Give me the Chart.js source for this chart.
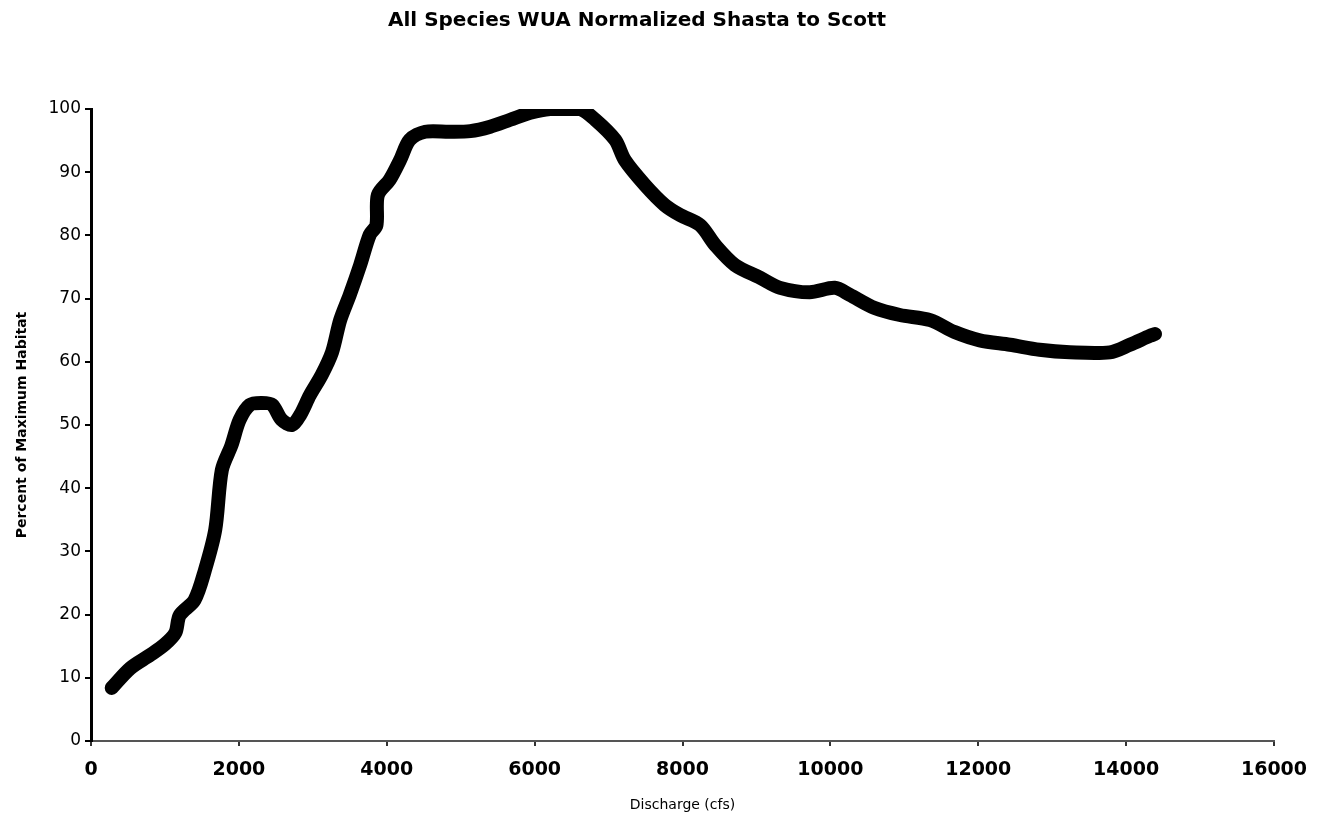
<!DOCTYPE html>
<html>
<head>
<meta charset="utf-8">
<title>All Species WUA Normalized Shasta to Scott</title>
<script src="https://cdn.jsdelivr.net/npm/chart.js@4.4.1/dist/chart.umd.min.js"></script>
<style>
    html, body { margin: 0; padding: 0; background: #fff; }
    #wrap { width: 1317px; height: 816px; position: relative; }
</style>
</head>
<body>
<div id="wrap"><canvas id="wua-chart"></canvas></div>
<script>
// Discharge (cfs) and percent of maximum habitat
const discharge = [280, 530, 800, 1000, 1140, 1200, 1400, 1540, 1680, 1770, 1900, 2010, 2150, 2310, 2450, 2580, 2720,
    2830, 2960, 3120, 3260, 3370, 3500, 3640, 3770, 3860, 3880, 4040, 4180, 4310, 4520, 4850, 5130, 5400, 5670,
    5940, 6210, 6610, 6820, 7090, 7220, 7490, 7760, 7970, 8240, 8440, 8710, 9050, 9320, 9720, 10060, 10260,
    10600, 10940, 11350, 11680, 12020, 12430, 12830, 13240, 13780, 14050, 14320, 14390];
const habitat = [8.4, 11.5, 13.6, 15.3, 17.1, 19.9, 22.3, 27, 33.4, 42.9, 46.8, 50.8, 53.2, 53.5, 53.2, 50.8, 50,
    51.6, 54.7, 57.9, 61.5, 66.6, 70.6, 75.3, 80.1, 81.6, 86.4, 88.8, 91.9, 95.1, 96.4, 96.4, 96.5, 97.2, 98.3,
    99.4, 100, 100, 98.3, 95.1, 91.9, 88, 84.8, 83.2, 81.6, 78.5, 75.3, 73.3, 71.7, 71, 71.7, 70.6,
    68.5, 67.4, 66.6, 64.7, 63.4, 62.7, 61.9, 61.5, 61.5, 62.7, 64.1, 64.4];
const xTicks = [0, 2000, 4000, 6000, 8000, 10000, 12000, 14000, 16000];
const yTicks = [0, 10, 20, 30, 40, 50, 60, 70, 80, 90, 100];

document.addEventListener('DOMContentLoaded', function() {
    const points = discharge.map((x, i) => ({ x: x, y: habitat[i] }));
    const ctx = document.getElementById('wua-chart').getContext('2d');

    window.wuaChart = new Chart(ctx, {
        type: 'scatter',
        data: {
            datasets: [{
                label: 'All Species',
                data: points,
                showLine: true,
                borderColor: '#000',
                backgroundColor: '#000',
                borderWidth: 14,
                borderCapStyle: 'round',
                borderJoinStyle: 'round',
                pointRadius: 0,
                tension: 0.3
            }]
        },
        options: {
            responsive: true,
            maintainAspectRatio: false,
            animation: false,
            layout: {
                padding: { left: 0, right: 43, top: 0, bottom: 0 }
            },
            plugins: {
                legend: { display: false },
                tooltip: { enabled: false },
                title: {
                    display: true,
                    text: 'All Species WUA Normalized Shasta to Scott',
                    color: '#000',
                    font: { family: 'DejaVu Sans', size: 20, weight: 'bold' },
                    padding: { top: 9, bottom: 76 }
                }
            },
            scales: {
                x: {
                    type: 'linear',
                    min: 0,
                    max: 16000,
                    afterBuildTicks: axis => { axis.ticks = xTicks.map(v => ({ value: v })); },
                    afterFit: axis => {
                        axis.height = 75;
                        axis.paddingRight = 0;
                        axis.paddingLeft = 0;
                    },
                    grid: {
                        display: true,
                        drawOnChartArea: false,
                        drawTicks: true,
                        tickLength: 5,
                        color: '#333',
                        lineWidth: 2
                    },
                    border: { display: true, color: '#555', width: 2 },
                    ticks: {
                        color: '#000',
                        padding: 13,
                        maxRotation: 0,
                        callback: v => String(v),
                        font: { family: 'DejaVu Sans', size: 19, weight: 'bold' }
                    },
                    title: {
                        display: true,
                        text: 'Discharge (cfs)',
                        color: '#000',
                        font: { family: 'DejaVu Sans', size: 14 },
                        padding: { top: 0, bottom: 2 }
                    }
                },
                y: {
                    type: 'linear',
                    min: 0,
                    max: 100,
                    afterBuildTicks: axis => { axis.ticks = yTicks.map(v => ({ value: v })); },
                    afterFit: axis => { axis.width = 91; },
                    grid: {
                        display: true,
                        drawOnChartArea: false,
                        drawTicks: true,
                        tickLength: 6,
                        color: '#000',
                        lineWidth: 2
                    },
                    border: { display: true, color: '#000', width: 3 },
                    ticks: {
                        color: '#000',
                        padding: 4,
                        font: { family: 'DejaVu Sans', size: 17 }
                    },
                    title: {
                        display: true,
                        text: 'Percent of Maximum Habitat',
                        color: '#000',
                        font: { family: 'DejaVu Sans', size: 14, weight: 'bold' },
                        padding: { top: 14, bottom: 0 }
                    }
                }
            }
        }
    });
});
</script>
</body>
</html>
